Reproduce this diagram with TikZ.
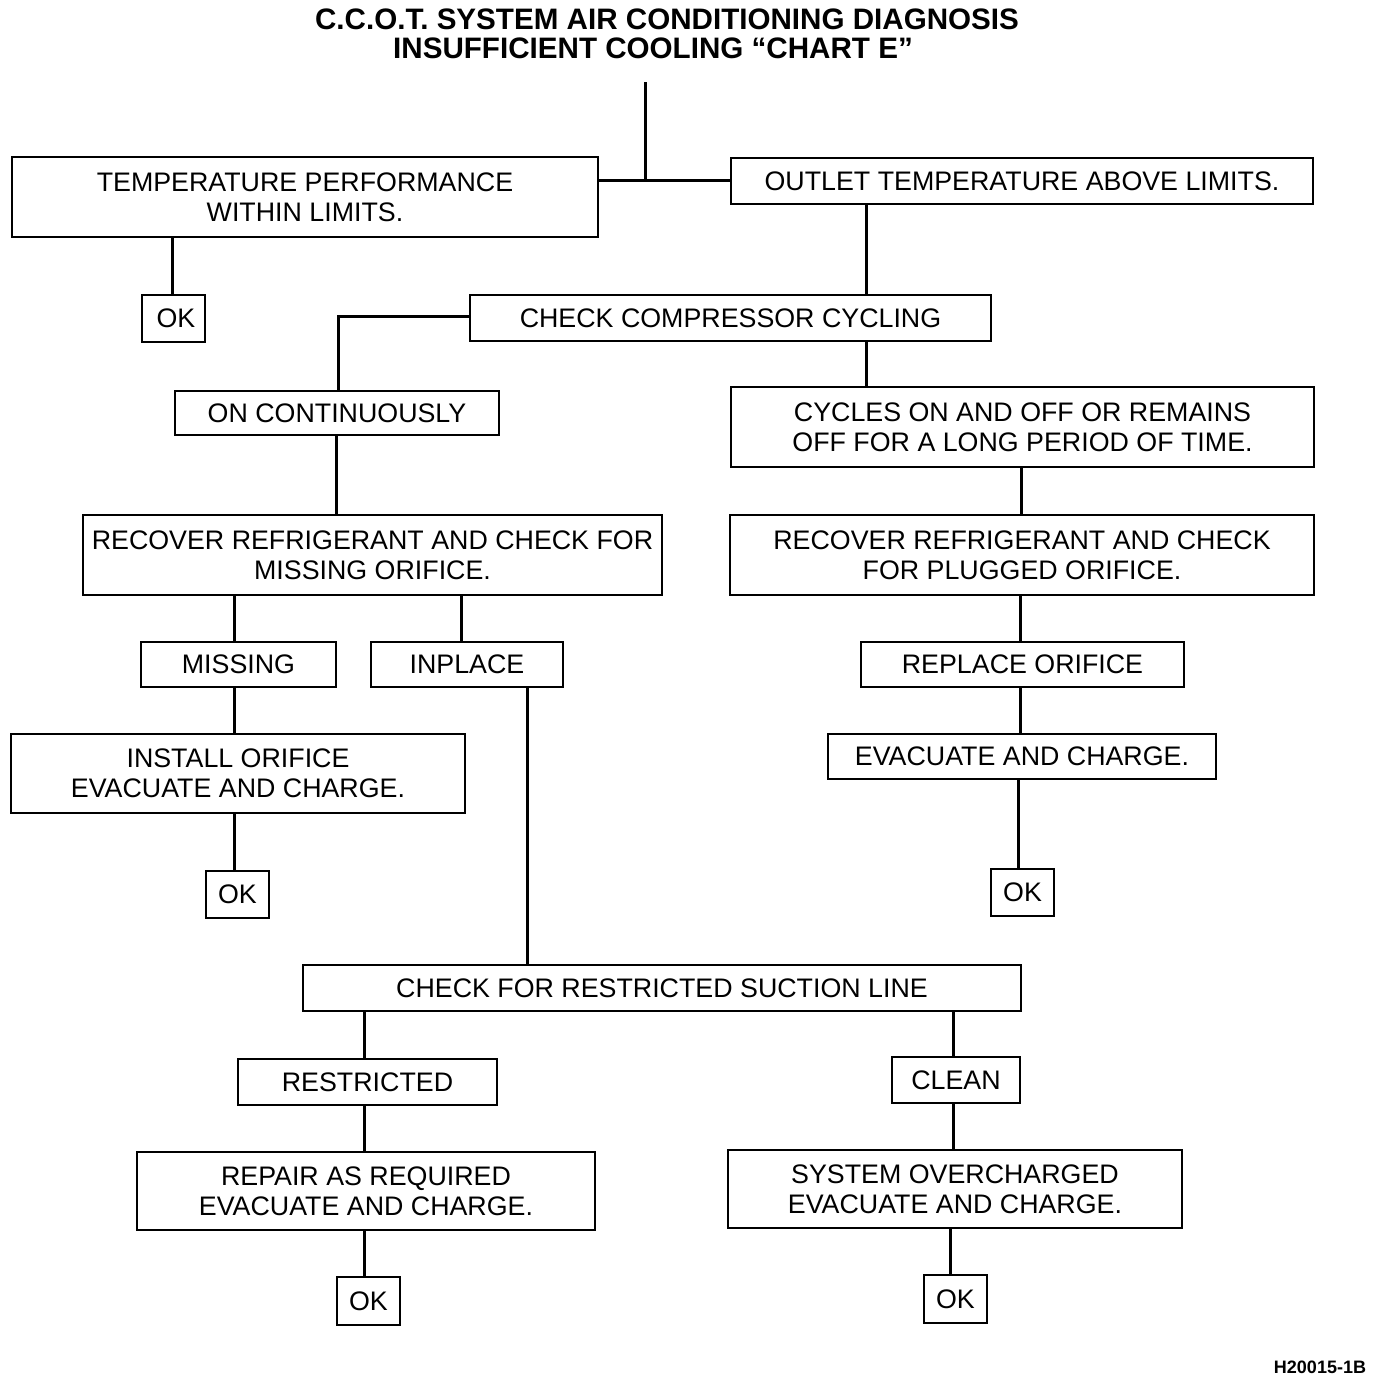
\documentclass[tikz,border=0pt]{standalone}
\usepackage{fontspec}
\setmainfont{Liberation Sans}
\begin{document}
\begin{tikzpicture}[x=1pt,y=-1pt,
  box/.style={draw, line width=2.4pt, rectangle, inner sep=0pt, align=center,
    font=\fontsize{26.8}{30}\selectfont},
  link/.style={line width=3pt},
  ttl/.style={font=\bfseries\fontsize{29.6}{30}\selectfont, inner sep=0pt}]
\fill[white] (0,0) rectangle (1376,1382);
\useasboundingbox (0,0) rectangle (1376,1382);

\node[ttl] (t1) at (667,19) {C.C.O.T. SYSTEM AIR CONDITIONING DIAGNOSIS};
\node[ttl] (t2) at (653,48) {INSUFFICIENT COOLING ``CHART E''};

\node[box, minimum width=586pt, minimum height=80pt] (b1) at (305,197) {TEMPERATURE PERFORMANCE\\WITHIN LIMITS.};
\node[box, minimum width=582pt, minimum height=46pt] (b2) at (1022,181) {OUTLET TEMPERATURE ABOVE LIMITS.};
\node[box, minimum width=63pt, minimum height=47pt] (ok1) at (173.5,318.5) {\hspace{5pt}OK};
\node[box, minimum width=521pt, minimum height=46pt] (b3) at (730.5,318) {CHECK COMPRESSOR CYCLING};
\node[box, minimum width=324pt, minimum height=44pt] (b4) at (337,413) {ON CONTINUOUSLY};
\node[box, minimum width=583pt, minimum height=80pt] (b5) at (1022.5,427) {CYCLES ON AND OFF OR REMAINS\\OFF FOR A LONG PERIOD OF TIME.};
\node[box, minimum width=579pt, minimum height=80pt] (b6) at (372.5,555) {RECOVER REFRIGERANT AND CHECK FOR\\MISSING ORIFICE.};
\node[box, minimum width=584pt, minimum height=80pt] (b7) at (1022,555) {RECOVER REFRIGERANT AND CHECK\\FOR PLUGGED ORIFICE.};
\node[box, minimum width=195pt, minimum height=45pt] (b8) at (238.5,664.5) {MISSING};
\node[box, minimum width=192pt, minimum height=45pt] (b9) at (467,664.5) {INPLACE};
\node[box, minimum width=323pt, minimum height=45pt] (b10) at (1022.5,664.5) {REPLACE ORIFICE};
\node[box, minimum width=388pt, minimum height=45pt] (b11) at (1022,756.5) {EVACUATE AND CHARGE.};
\node[box, minimum width=454pt, minimum height=79pt] (b12) at (238,773.5) {INSTALL ORIFICE\\EVACUATE AND CHARGE.};
\node[box, minimum width=63pt, minimum height=47pt] (ok2) at (237.5,894.5) {OK};
\node[box, minimum width=63pt, minimum height=47pt] (ok3) at (1022.5,892.5) {OK};
\node[box, minimum width=718pt, minimum height=46pt] (b13) at (662,988) {CHECK FOR RESTRICTED SUCTION LINE};
\node[box, minimum width=259pt, minimum height=46pt] (b14) at (367.5,1082) {RESTRICTED};
\node[box, minimum width=128pt, minimum height=46pt] (b15) at (956,1080) {CLEAN};
\node[box, minimum width=458pt, minimum height=78pt] (b16) at (366,1191) {REPAIR AS REQUIRED\\EVACUATE AND CHARGE.};
\node[box, minimum width=454pt, minimum height=78pt] (b17) at (955,1189) {SYSTEM OVERCHARGED\\EVACUATE AND CHARGE.};
\node[box, minimum width=63pt, minimum height=48pt] (ok4) at (368.5,1301) {OK};
\node[box, minimum width=63pt, minimum height=48pt] (ok5) at (955.5,1299) {OK};

\node[font=\bfseries\fontsize{18}{20}\selectfont, inner sep=0pt] (code) at (1320,1367) {H20015-1B};

\coordinate (top) at (645,82);
\coordinate (j1) at (645,180);
\draw[link] (top) -- (j1);
\draw[link] (b1.east |- j1) -- (b2.west |- j1);

\draw[link] (b1.south -| 172,0) -- (ok1.north -| 172,0);
\draw[link] (b2.south -| 866,0) -- (b3.north -| 866,0);
\draw[link] (b3.west |- 0,316) -| (b4.north -| 338,0);
\draw[link] (b3.south -| 866,0) -- (b5.north -| 866,0);
\draw[link] (b4.south -| 336,0) -- (b6.north -| 336,0);
\draw[link] (b5.south -| 1021,0) -- (b7.north -| 1021,0);
\draw[link] (b6.south -| 234,0) -- (b8.north -| 234,0);
\draw[link] (b6.south -| 461,0) -- (b9.north -| 461,0);
\draw[link] (b7.south -| 1020,0) -- (b10.north -| 1020,0);
\draw[link] (b8.south -| 234,0) -- (b12.north -| 234,0);
\draw[link] (b9.south -| 527,0) -- (b13.north -| 527,0);
\draw[link] (b10.south -| 1020,0) -- (b11.north -| 1020,0);
\draw[link] (b11.south -| 1018,0) -- (ok3.north -| 1018,0);
\draw[link] (b12.south -| 234,0) -- (ok2.north -| 234,0);
\draw[link] (b13.south -| 364,0) -- (b14.north -| 364,0);
\draw[link] (b13.south -| 953,0) -- (b15.north -| 953,0);
\draw[link] (b14.south -| 364,0) -- (b16.north -| 364,0);
\draw[link] (b15.south -| 953,0) -- (b17.north -| 953,0);
\draw[link] (b16.south -| 364,0) -- (ok4.north -| 364,0);
\draw[link] (b17.south -| 950,0) -- (ok5.north -| 950,0);
\end{tikzpicture}
\end{document}
